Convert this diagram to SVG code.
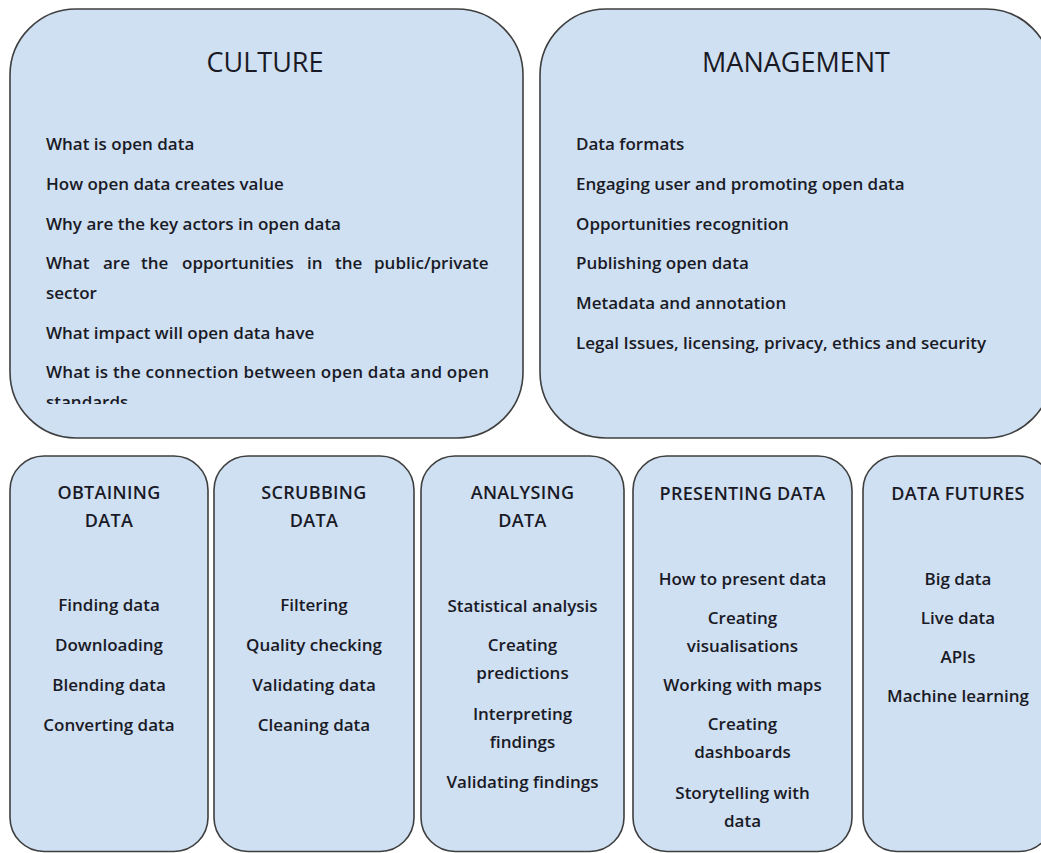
<svg xmlns="http://www.w3.org/2000/svg" width="1041" height="853" viewBox="0 0 1041 853">
  <style>
    .box { fill: #cfe0f2; stroke: #3f3f3f; stroke-width: 1.6; }
    text { font-family: "Open Sans", "Noto Sans", "Liberation Sans", sans-serif; fill: #1a1a26; }
    .big { font-size: 27px; font-weight: 400; text-anchor: middle; }
    .item { font-size: 17px; font-weight: 600; }
    .hd { font-size: 18px; font-weight: 600; text-anchor: middle; letter-spacing: 0.3px; }
    .c { font-size: 17px; font-weight: 600; text-anchor: middle; }
  </style>
  <defs>
    <clipPath id="cultureClip">
      <rect x="0" y="0" width="540" height="404"/>
    </clipPath>
  </defs>
  <rect x="0" y="0" width="1041" height="853" fill="#ffffff"/>

  <g id="culture">
    <rect class="box" x="10" y="9" width="513" height="429" rx="66" ry="66"/>
    <text class="big" x="265" y="72">CULTURE</text>
    <g clip-path="url(#cultureClip)">
      <text class="item" x="46" y="150">What is open data</text>
      <text class="item" x="46" y="190">How open data creates value</text>
      <text class="item" x="46" y="230">Why are the key actors in open data</text>
      <text class="item" y="269"><tspan x="46">What</tspan><tspan x="103">are</tspan><tspan x="141">the</tspan><tspan x="182">opportunities</tspan><tspan x="307">in</tspan><tspan x="335">the</tspan><tspan x="374">public/private</tspan></text>
      <text class="item" x="46" y="299">sector</text>
      <text class="item" x="46" y="339">What impact will open data have</text>
      <text class="item" x="46" y="378" textLength="443" lengthAdjust="spacing">What is the connection between open data and open</text>
      <text class="item" x="46" y="408">standards</text>
    </g>
  </g>

  <g id="management">
    <rect class="box" x="540" y="9" width="512" height="429" rx="66" ry="66"/>
    <text class="big" x="796" y="72">MANAGEMENT</text>
    <text class="item" x="576" y="150">Data formats</text>
    <text class="item" x="576" y="190">Engaging user and promoting open data</text>
    <text class="item" x="576" y="230">Opportunities recognition</text>
    <text class="item" x="576" y="269">Publishing open data</text>
    <text class="item" x="576" y="309">Metadata and annotation</text>
    <text class="item" x="576" y="349">Legal Issues, licensing, privacy, ethics and security</text>
  </g>

  <g id="obtaining">
    <rect class="box" x="10" y="456" width="198" height="395.5" rx="34" ry="34"/>
    <text class="hd" x="109" y="499">OBTAINING</text>
    <text class="hd" x="109" y="527">DATA</text>
    <text class="c" x="109" y="611">Finding data</text>
    <text class="c" x="109" y="651">Downloading</text>
    <text class="c" x="109" y="691">Blending data</text>
    <text class="c" x="109" y="731">Converting data</text>
  </g>

  <g id="scrubbing">
    <rect class="box" x="214" y="456" width="200" height="395.5" rx="34" ry="34"/>
    <text class="hd" x="314" y="499">SCRUBBING</text>
    <text class="hd" x="314" y="527">DATA</text>
    <text class="c" x="314" y="611">Filtering</text>
    <text class="c" x="314" y="651">Quality checking</text>
    <text class="c" x="314" y="691">Validating data</text>
    <text class="c" x="314" y="731">Cleaning data</text>
  </g>

  <g id="analysing">
    <rect class="box" x="421" y="456" width="203" height="395.5" rx="34" ry="34"/>
    <text class="hd" x="522.5" y="499">ANALYSING</text>
    <text class="hd" x="522.5" y="527">DATA</text>
    <text class="c" x="522.5" y="612">Statistical analysis</text>
    <text class="c" x="522.5" y="651">Creating</text>
    <text class="c" x="522.5" y="679">predictions</text>
    <text class="c" x="522.5" y="720">Interpreting</text>
    <text class="c" x="522.5" y="748">findings</text>
    <text class="c" x="522.5" y="788">Validating findings</text>
  </g>

  <g id="presenting">
    <rect class="box" x="633" y="456" width="219" height="395.5" rx="34" ry="34"/>
    <text class="hd" x="742.5" y="500">PRESENTING DATA</text>
    <text class="c" x="742.5" y="585">How to present data</text>
    <text class="c" x="742.5" y="624">Creating</text>
    <text class="c" x="742.5" y="652">visualisations</text>
    <text class="c" x="742.5" y="691">Working with maps</text>
    <text class="c" x="742.5" y="730">Creating</text>
    <text class="c" x="742.5" y="758">dashboards</text>
    <text class="c" x="742.5" y="799">Storytelling with</text>
    <text class="c" x="742.5" y="827">data</text>
  </g>

  <g id="futures">
    <rect class="box" x="863" y="456" width="190" height="395.5" rx="34" ry="34"/>
    <text class="hd" x="958" y="500">DATA FUTURES</text>
    <text class="c" x="958" y="585">Big data</text>
    <text class="c" x="958" y="624">Live data</text>
    <text class="c" x="958" y="663">APIs</text>
    <text class="c" x="958" y="702">Machine learning</text>
  </g>

  <g id="connectors"></g>
</svg>
